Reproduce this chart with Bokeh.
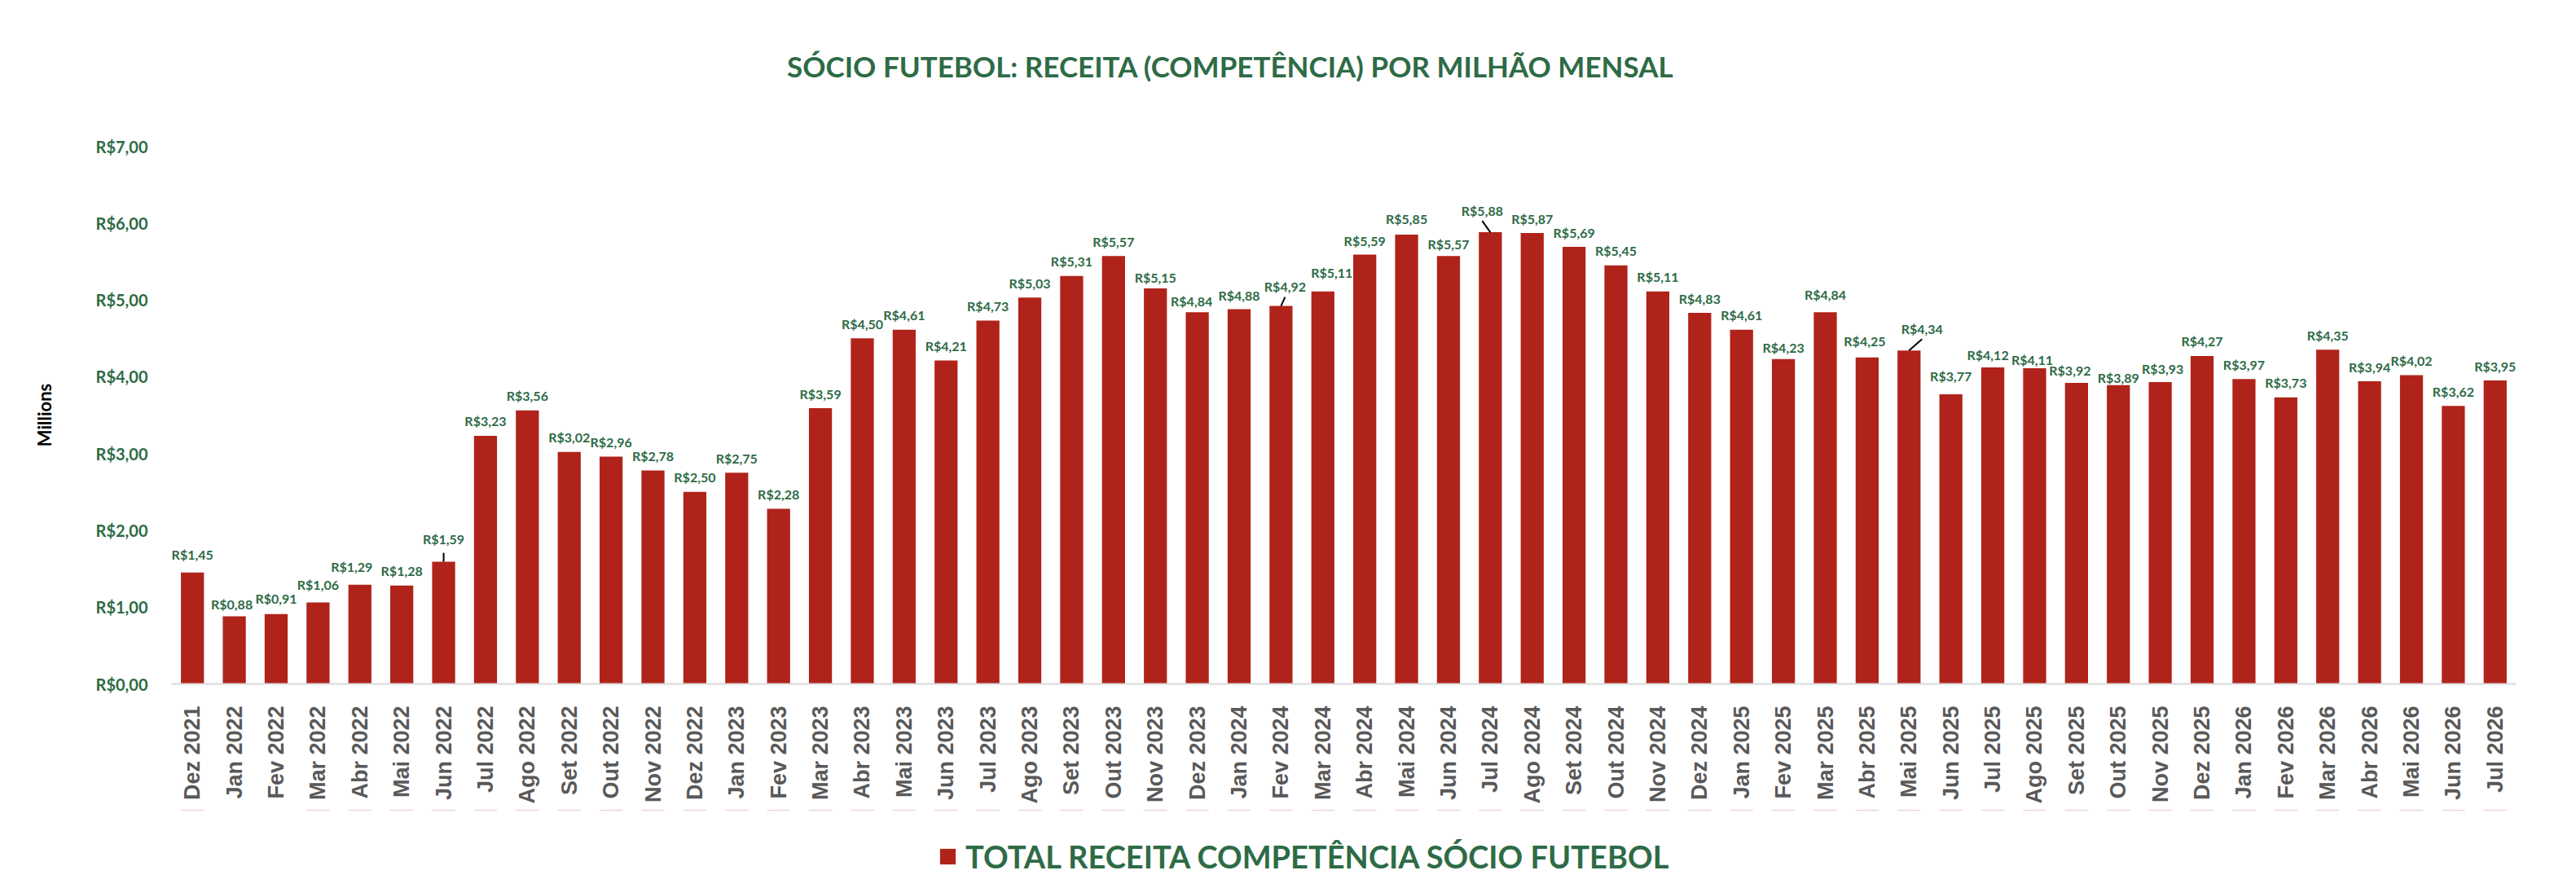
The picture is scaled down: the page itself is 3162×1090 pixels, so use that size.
import numpy as np
from bokeh.plotting import figure
from bokeh.layouts import column
from bokeh.models import ColumnDataSource, FixedTicker, Legend, LegendItem, Range1d
from bokeh.core.properties import value
from bokeh.embed import file_html
from bokeh.resources import INLINE

# ---------------- data ----------------
months = [
    "Dez 2021",
    "Jan 2022", "Fev 2022", "Mar 2022", "Abr 2022", "Mai 2022", "Jun 2022",
    "Jul 2022", "Ago 2022", "Set 2022", "Out 2022", "Nov 2022", "Dez 2022",
    "Jan 2023", "Fev 2023", "Mar 2023", "Abr 2023", "Mai 2023", "Jun 2023",
    "Jul 2023", "Ago 2023", "Set 2023", "Out 2023", "Nov 2023", "Dez 2023",
    "Jan 2024", "Fev 2024", "Mar 2024", "Abr 2024", "Mai 2024", "Jun 2024",
    "Jul 2024", "Ago 2024", "Set 2024", "Out 2024", "Nov 2024", "Dez 2024",
    "Jan 2025", "Fev 2025", "Mar 2025", "Abr 2025", "Mai 2025", "Jun 2025",
    "Jul 2025", "Ago 2025", "Set 2025", "Out 2025", "Nov 2025", "Dez 2025",
    "Jan 2026", "Fev 2026", "Mar 2026", "Abr 2026", "Mai 2026", "Jun 2026",
    "Jul 2026",
]
revenue_millions = [
    1.45,
    0.88, 0.91, 1.06, 1.29, 1.28, 1.59,
    3.23, 3.56, 3.02, 2.96, 2.78, 2.50,
    2.75, 2.28, 3.59, 4.50, 4.61, 4.21,
    4.73, 5.03, 5.31, 5.57, 5.15, 4.84,
    4.88, 4.92, 5.11, 5.59, 5.85, 5.57,
    5.88, 5.87, 5.69, 5.45, 5.11, 4.83,
    4.61, 4.23, 4.84, 4.25, 4.34, 3.77,
    4.12, 4.11, 3.92, 3.89, 3.93, 4.27,
    3.97, 3.73, 4.35, 3.94, 4.02, 3.62,
    3.95,
]
y_ticks = [0, 1, 2, 3, 4, 5, 6, 7]
y_tick_labels = ["R$0,00", "R$1,00", "R$2,00", "R$3,00", "R$4,00", "R$5,00", "R$6,00", "R$7,00"]
title_text = "SÓCIO FUTEBOL: RECEITA (COMPETÊNCIA) POR MILHÃO MENSAL"
series_name = "TOTAL RECEITA COMPETÊNCIA SÓCIO FUTEBOL"
y_axis_title = "Millions"

# ---------------- styling / layout ----------------
RED = "#B0231A"
GREEN = "#2E6B46"
GRAY = "#595959"
W = 3146
H_TITLE, H_MAIN, H_LEG = 130, 864, 80
B_LEFT, B_RIGHT, B_TOP, B_BOTTOM = 210, 58, 49, 155
FRAME_W = W - B_LEFT - B_RIGHT
FRAME_H = H_MAIN - B_TOP - B_BOTTOM
n = len(months)
px_x = FRAME_W / n
px_y = FRAME_H / (y_ticks[-1] - y_ticks[0])

DEFAULT_DY = -18
# label placement tweaks in screen px: (dx, dy, leader_dx, leader_dy)
label_adjust = {
    "Dez 2021": (0, -22, None, None),
    "Jan 2022": (-3, -15, None, None),
    "Fev 2022": (0, -19, None, None),
    "Mar 2022": (0, -22, None, None),
    "Abr 2022": (-10, -22, None, None),
    "Jun 2022": (0, -28, 0, -11),
    "Nov 2023": (0, -13, None, None),
    "Dez 2023": (-7, -14, None, None),
    "Jan 2024": (0, -17, None, None),
    "Fev 2024": (5, -24, 5, -11),
    "Mar 2024": (11, -23, None, None),
    "Abr 2024": (0, -17, None, None),
    "Mai 2024": (0, -19, None, None),
    "Jun 2024": (0, -15, None, None),
    "Jul 2024": (-10, -27, -10, -14),
    "Fev 2025": (0, -14, None, None),
    "Mar 2025": (0, -22, None, None),
    "Abr 2025": (-3, -20, None, None),
    "Mai 2025": (16, -27, 16, -14),
    "Jun 2025": (0, -23, None, None),
    "Jul 2025": (-6, -16, None, None),
    "Ago 2025": (-3, -10, None, None),
    "Set 2025": (-8, -15, None, None),
    "Out 2025": (0, -9, None, None),
    "Nov 2025": (3, -16, None, None),
}

xs = list(range(n))
labels = ["R$" + f"{v:.2f}".replace(".", ",") for v in revenue_millions]
dxs, dys = [], []
for m in months:
    a = label_adjust.get(m)
    dxs.append(a[0] if a else 0)
    dys.append(a[1] if a else DEFAULT_DY)

src = ColumnDataSource(dict(x=xs, top=revenue_millions, label=labels, dx=dxs, dy=dys))

lx0, ly0, lx1, ly1 = [], [], [], []
for i, m in enumerate(months):
    a = label_adjust.get(m)
    if a and a[2] is not None:
        lx0.append(xs[i])
        ly0.append(revenue_millions[i])
        lx1.append(xs[i] + a[2] / px_x)
        ly1.append(revenue_millions[i] - a[3] / px_y)
leader_src = ColumnDataSource(dict(x0=lx0, y0=ly0, x1=lx1, y1=ly1))


def blank_strip(height, x_start, x_end, y_end):
    f = figure(width=W, height=height, output_backend="svg", toolbar_location=None,
               x_range=Range1d(x_start, x_end), y_range=Range1d(0, y_end), min_border=0)
    f.axis.visible = False
    f.xgrid.visible = False
    f.ygrid.visible = False
    f.outline_line_color = None
    f.background_fill_color = "white"
    f.border_fill_color = "white"
    return f


# ---------------- title strip ----------------
tf = blank_strip(H_TITLE, 0, FRAME_W, H_TITLE)
title_src = ColumnDataSource(dict(x=[FRAME_W / 2 - 139], y=[H_TITLE - 80], t=[title_text]))
tf.text(x="x", y="y", text="t", source=title_src, text_align="center", text_baseline="middle",
        text_font=value("Lato"), text_font_style="bold", text_font_size="35px", text_color=GREEN)

# ---------------- main chart ----------------
p = figure(
    width=W, height=H_MAIN, output_backend="svg", toolbar_location=None,
    x_range=Range1d(-0.5, n - 0.5), y_range=Range1d(y_ticks[0], y_ticks[-1]),
    min_border_left=B_LEFT, min_border_right=B_RIGHT,
    min_border_top=B_TOP, min_border_bottom=B_BOTTOM,
)
p.outline_line_color = None
p.background_fill_color = "white"
p.border_fill_color = "white"
p.xgrid.visible = False
p.ygrid.visible = False

bars = p.vbar(x="x", top="top", width=0.55, source=src, fill_color=RED, line_color=None)

p.segment(x0="x0", y0="y0", x1="x1", y1="y1", source=leader_src, line_color="black", line_width=2)

p.text(x="x", y="top", text="label", x_offset="dx", y_offset="dy", source=src,
       text_align="center", text_baseline="middle", text_font=value("Lato"),
       text_font_style="bold", text_font_size="16px", text_color=GREEN)

# x axis
xa = p.xaxis[0]
xa.ticker = FixedTicker(ticks=xs)
xa.major_label_overrides = {i: m for i, m in enumerate(months)}
xa.major_label_orientation = np.pi / 2
xa.major_label_standoff = 21
xa.major_label_text_font = "Liberation Sans"
xa.major_label_text_font_style = "bold"
xa.major_label_text_font_size = "27px"
xa.major_label_text_color = GRAY
xa.axis_line_color = "#D9D9D9"
xa.axis_line_width = 2
xa.major_tick_line_color = None
xa.minor_tick_line_color = None

# y axis
ya = p.yaxis[0]
ya.ticker = FixedTicker(ticks=y_ticks)
ya.major_label_overrides = {t: l for t, l in zip(y_ticks, y_tick_labels)}
ya.major_label_standoff = 23
ya.major_label_text_font = "Lato"
ya.major_label_text_font_style = "bold"
ya.major_label_text_font_size = "20px"
ya.major_label_text_color = GREEN
ya.axis_line_color = None
ya.major_tick_line_color = None
ya.minor_tick_line_color = None
ya.axis_label = y_axis_title
ya.axis_label_text_font = "Lato"
ya.axis_label_text_font_style = "bold"
ya.axis_label_text_font_size = "22px"
ya.axis_label_text_color = "black"
ya.axis_label_standoff = 47

# ---------------- legend strip ----------------
lf = blank_strip(H_LEG, -0.5, n - 0.5, 1)
# zero-height bars: only lend their style to the legend swatch
swatch = lf.vbar(x="x", top="top", bottom="top", width=0.55, source=src,
                 fill_color=RED, line_color=None)

legend = Legend(
    items=[LegendItem(label=series_name, renderers=[swatch])],
    location=(941, 0), orientation="horizontal",
    padding=0, margin=0, border_line_color=None, background_fill_alpha=0,
    label_text_font="Lato", label_text_font_style="bold", label_text_font_size="38px",
    label_text_color=GREEN, glyph_width=24, glyph_height=24, label_standoff=10,
)
lf.add_layout(legend)

layout = column(tf, p, lf, spacing=0)
open("out.html", "w").write(file_html(layout, INLINE))
